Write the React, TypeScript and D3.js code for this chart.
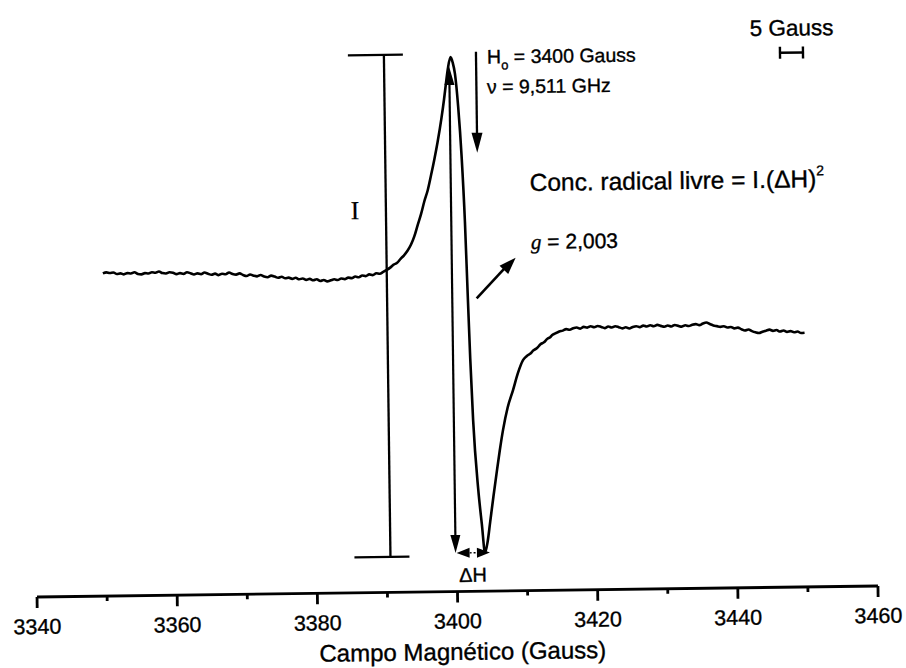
import React from 'react';
import * as d3 from 'd3';

// Magnetic field (Gauss) of each sample of the EPR derivative spectrum
const fieldGauss: number[] = [
  3350, 3350.5, 3351, 3351.5, 3352, 3352.5, 3353, 3353.5, 3354, 3354.5,
  3355, 3355.5, 3356, 3356.5, 3357, 3357.5, 3358, 3358.5, 3359, 3359.5,
  3360, 3360.5, 3361, 3361.5, 3362, 3362.5, 3363, 3363.5, 3364, 3364.5,
  3365, 3365.5, 3366, 3366.5, 3367, 3367.5, 3368, 3368.5, 3369, 3369.5,
  3370, 3370.5, 3371, 3371.5, 3372, 3372.5, 3373, 3373.5, 3374, 3374.5,
  3375, 3375.5, 3376, 3376.5, 3377, 3377.5, 3378, 3378.5, 3379, 3379.5,
  3380, 3380.5, 3381, 3381.5, 3382, 3382.5, 3383, 3383.5, 3384, 3384.5,
  3385, 3385.5, 3386, 3386.5, 3387, 3387.5, 3388, 3388.5, 3389, 3389.5,
  3390,
  3390.5, 3391, 3391.5, 3392, 3392.5, 3393, 3393.5, 3394, 3394.5, 3395,
  3395.5, 3396, 3396.5, 3397, 3397.5, 3398, 3398.6, 3399, 3399.3, 3399.6,
  3400, 3400.3, 3400.6, 3401, 3401.4, 3401.75, 3402, 3402.25, 3402.55, 3403.15,
  3403.6, 3404, 3404.4, 3404.8, 3405.3, 3405.8, 3406.3, 3406.8, 3407.5, 3408.3,
  3409, 3409.8, 3410.3, 3410.8, 3411.3, 3411.8, 3412.3, 3412.8, 3413.3, 3413.7,
  3414, 3414.5, 3415, 3415.5, 3416, 3416.5, 3417, 3417.5, 3418, 3418.5,
  3419, 3419.5, 3420, 3420.5, 3421, 3421.5, 3422, 3422.5, 3423, 3423.5,
  3424, 3424.5, 3425, 3425.5, 3426, 3426.5, 3427, 3427.5, 3428, 3428.5,
  3429, 3429.5, 3430, 3430.5, 3431, 3431.5, 3432, 3432.5, 3433, 3433.5,
  3434, 3434.5, 3435, 3435.5, 3436, 3436.5, 3437, 3437.5, 3438, 3438.5,
  3439, 3439.5, 3440, 3440.5, 3441, 3441.5, 3442, 3442.5, 3443, 3443.5,
  3444, 3444.5, 3445, 3445.5, 3446, 3446.5, 3447, 3447.5, 3448, 3448.5,
  3449, 3449.5, 3450,
];

// First-derivative EPR signal (arbitrary units, peak = 100, trough = -100)
const signal: number[] = [
  14.6, 15.0, 14.7, 14.9, 14.3, 14.5, 14.1, 14.6, 14.4, 14.9,
  14.2, 14.0, 14.5, 14.3, 14.8, 14.6, 15.1, 14.4, 14.2, 14.7,
  14.5, 13.9, 14.3, 14.0, 14.6, 14.2, 13.7, 14.1, 13.8, 14.4,
  13.9, 13.5, 13.9, 13.3, 13.8, 13.6, 14.3, 13.7, 13.4, 13.9,
  13.2, 12.8, 13.4, 12.9, 12.6, 13.1, 12.5, 12.2, 12.8, 12.4,
  11.9, 12.3, 11.7, 11.9, 11.4, 11.8, 11.2, 11.5, 10.9, 11.3,
  10.7, 11.1, 10.4, 10.8, 10.2, 10.6, 11.0, 10.7, 11.3, 11.0,
  11.6, 11.4, 12.0, 11.7, 12.4, 12.1, 12.8, 12.5, 13.2, 13.0,
  13.7,
  14.5, 15.4, 16.6, 17.3, 18.9, 20.3, 22.1, 24.5, 27.9, 32.4,
  36.8, 42.0, 46.4, 52.4, 58.8, 65.8, 75.5, 83.0, 89.4, 95.3,
  100, 97.8, 93.3, 80.0, 59.8, 33.5, 5.4, -21.5, -46.5, -74.5,
  -88.5, -100, -95.5, -87.5, -77.5, -68.0, -58.8, -50.6, -41.6, -34.6,
  -28.0, -22.5, -21.0, -20.1, -18.7, -17.8, -16.3, -15.5, -14.1, -13.5,
  -12.6, -11.9, -11.2, -10.9, -10.3, -10.6, -10.0, -9.7, -10.2, -9.5,
  -9.8, -9.3, -9.7, -9.2, -9.6, -10.1, -9.5, -9.9, -9.4, -9.8,
  -10.3, -9.9, -10.4, -9.8, -9.5, -9.9, -9.3, -9.7, -9.2, -9.6,
  -9.1, -9.5, -9.9, -9.4, -9.8, -9.2, -9.6, -9.9, -9.4, -9.7,
  -9.2, -9.0, -9.4, -8.8, -8.4, -9.0, -9.6, -9.9, -10.2, -10.0,
  -10.5, -10.3, -10.9, -10.6, -11.3, -11.8, -11.4, -12.1, -12.6, -12.9,
  -12.4, -12.0, -11.6, -12.1, -11.8, -12.4, -12.0, -12.6, -12.3, -12.8,
  -12.5, -13.1, -13.0,
];

const majorTicks: number[] = [3340, 3360, 3380, 3400, 3420, 3440, 3460];
const minorTicks: number[] = [3350, 3370, 3390, 3410, 3430, 3450];
const tickLabels: string[] = ['3340', '3360', '3380', '3400', '3420', '3440', '3460'];

const axisTitle = 'Campo Magnético (Gauss)';
const fieldCenter = 'H';
const fieldCenterValue = ' = 3400 Gauss';
const freqText = 'ν = 9,511 GHz';
const concText = 'Conc. radical livre = I.(ΔH)';
const gValue = ' = 2,003';
const scaleText = '5 Gauss';

// annotation anchors in data units
const peakField = 3399.8;
const troughField = 3404.7;
const intensityBarField = 3390.5;

const FONT = "'Liberation Sans', Arial, Helvetica, sans-serif";
const SERIF = "'Liberation Serif', 'Times New Roman', serif";

function head(tx: number, ty: number, fx: number, fy: number, len = 14, half = 5) {
  const dx = tx - fx, dy = ty - fy;
  const L = Math.hypot(dx, dy) || 1;
  const ux = dx / L, uy = dy / L;
  const bx = tx - ux * len, by = ty - uy * len;
  const px = -uy * half, py = ux * half;
  return `${tx},${ty} ${bx + px},${by + py} ${bx - px},${by - py}`;
}

export default function App() {
  const x = d3.scaleLinear().domain([3340, 3460]).range([37, 878]);
  const y = d3.scaleLinear().domain([-100, 100]).range([553, 57]);
  const axisY = 591.5;

  const line = d3
    .line<number>()
    .x((_, i) => x(fieldGauss[i]))
    .y((d) => y(d))
    .curve(d3.curveMonotoneX);

  const path = line(signal) || '';

  const barX = x(intensityBarField);
  const barTop = y(101.2);
  const barBot = y(-101.2);

  const vX = x(peakField);
  const vTop = y(96);
  const vBot = y(-100);
  const hY = y(-100);
  const hR = x(troughField);

  const txt = { fill: '#000', stroke: '#000', strokeWidth: 0.35 } as const;

  return (
    <svg
      width={906}
      height={668}
      style={{ position: 'absolute', left: 0, top: 0, background: '#fff' }}
    >
      <rect x={0} y={0} width={906} height={668} fill="#fff" />
      <g transform="rotate(-0.75 457 591.5)">
        {/* spectrum */}
        <path d={path} fill="none" stroke="#000" strokeWidth={2.6} strokeLinejoin="round" />

        {/* intensity bar I */}
        <line x1={barX} x2={barX} y1={barTop} y2={barBot} stroke="#000" strokeWidth={2.3} />
        <line x1={barX - 36} x2={barX + 19} y1={barTop} y2={barTop} stroke="#000" strokeWidth={2.3} />
        <line x1={barX - 36} x2={barX + 19} y1={barBot} y2={barBot} stroke="#000" strokeWidth={2.3} />
        <text x={360} y={218} fontFamily={SERIF} fontSize={26} textAnchor="middle" {...txt} strokeWidth={0.2}>I</text>

        {/* delta H arrows */}
        <line x1={vX} x2={vX} y1={vTop + 10} y2={vBot - 10} stroke="#000" strokeWidth={2.2} />
        <polygon points={head(vX, vTop, vX, vTop + 20, 18, 5)} fill="#000" />
        <polygon points={head(vX, vBot, vX, vBot - 20, 18, 5)} fill="#000" />
        <line x1={vX + 10} x2={hR - 10} y1={hY} y2={hY} stroke="#000" strokeWidth={1.4} strokeDasharray="2 2" />
        <polygon points={head(vX + 1, hY, vX + 20, hY, 13, 5)} fill="#000" />
        <polygon points={head(hR, hY, hR - 20, hY, 13, 5)} fill="#000" />
        <text x={(vX + hR) / 2} y={582} fontFamily={FONT} fontSize={20} textAnchor="middle" {...txt}>ΔH</text>

        {/* H0 arrow */}
        <line x1={483} x2={483} y1={52} y2={140} stroke="#000" strokeWidth={2.3} />
        <polygon points={head(483, 153, 483, 130, 20, 5.5)} fill="#000" />
        <text x={494} y={64} fontFamily={FONT} fontSize={19.5} {...txt}>
          {fieldCenter}
          <tspan fontSize={13} dy={6}>o</tspan>
          <tspan dy={-6}>{fieldCenterValue}</tspan>
        </text>
        <text x={493.5} y={94} fontFamily={FONT} fontSize={19.5} {...txt}>{freqText}</text>

        {/* concentration */}
        <text x={535} y={192} fontFamily={FONT} fontSize={24.5} {...txt}>
          {concText}
          <tspan fontSize={14} dy={-12}>2</tspan>
        </text>

        {/* g value */}
        <line x1={480.5} y1={298.6} x2={513} y2={264.5} stroke="#000" strokeWidth={2.6} />
        <polygon points={head(520, 258.5, 480.5, 298.6, 17, 6)} fill="#000" />
        <text x={535.5} y={250} fontFamily={FONT} fontSize={21} {...txt}>
          <tspan fontFamily={SERIF} fontStyle="italic">g</tspan>
          {gValue}
        </text>

        {/* 5 Gauss scale */}
        <text x={757} y={40} fontFamily={FONT} fontSize={22.5} {...txt}>{scaleText}</text>
        <line x1={787} x2={810} y1={57} y2={57} stroke="#000" strokeWidth={2.4} />
        <line x1={787} x2={787} y1={51} y2={63} stroke="#000" strokeWidth={2.4} />
        <line x1={810} x2={810} y1={51} y2={63} stroke="#000" strokeWidth={2.4} />

        {/* x axis */}
        <line x1={x(3340)} x2={x(3460)} y1={axisY} y2={axisY} stroke="#000" strokeWidth={2.8} />
        {majorTicks.map((t) => (
          <line key={'M' + t} x1={x(t)} x2={x(t)} y1={axisY} y2={axisY + 11} stroke="#000" strokeWidth={2.8} />
        ))}
        {minorTicks.map((t) => (
          <line key={'m' + t} x1={x(t)} x2={x(t)} y1={axisY} y2={axisY + 5} stroke="#000" strokeWidth={2.8} />
        ))}
        {majorTicks.map((t, i) => (
          <text key={'L' + t} x={x(t)} y={axisY + 37} fontFamily={FONT} fontSize={21.5} textAnchor="middle" {...txt}>
            {tickLabels[i]}
          </text>
        ))}
        <text x={462} y={660} fontFamily={FONT} fontSize={24} textAnchor="middle" {...txt}>{axisTitle}</text>
      </g>
    </svg>
  );
}
